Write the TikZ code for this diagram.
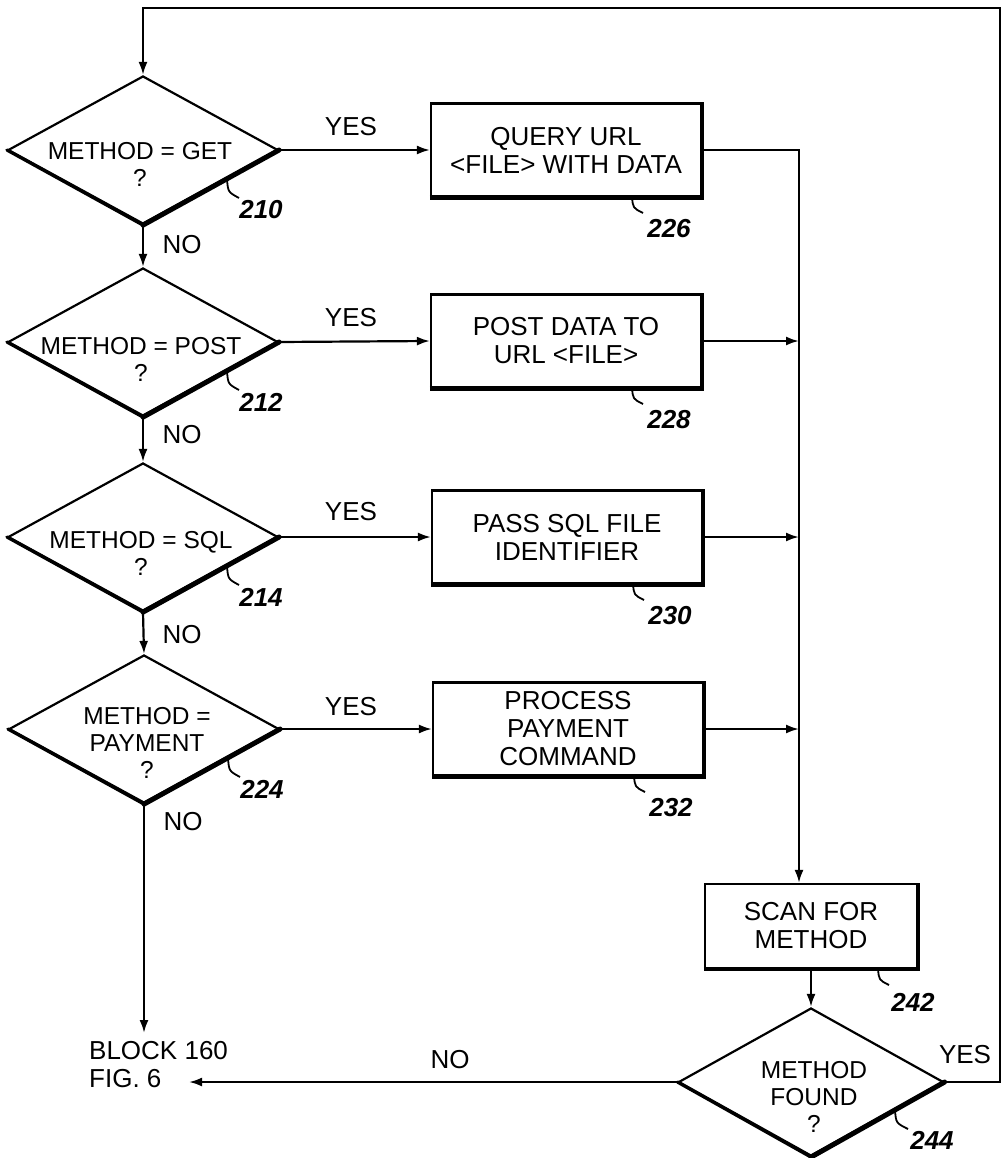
\documentclass[tikz,border=0pt]{standalone}
\usepackage{fontspec}
\setmainfont{Liberation Sans}
\usetikzlibrary{shapes.geometric,arrows.meta,calc}
\begin{document}
\begin{tikzpicture}[x=1pt,y=-1pt,
  arr/.style={line width=2.2pt,-{Latex[length=13pt,width=9pt]}},
  dia/.style={diamond,draw,line width=2.2pt,minimum width=270pt,minimum height=148pt,inner sep=0pt},
  dia2/.style={diamond,draw,line width=2.2pt,minimum width=265pt,minimum height=148pt,inner sep=0pt},
  procbox/.style={rectangle,draw,line width=2.2pt,minimum width=270pt,minimum height=93pt,inner sep=3pt,align=center,font=\fontsize{26}{28}\selectfont},
  dtxt/.style={align=center,font=\fontsize{24.5}{27}\selectfont,inner sep=0pt},
  lbl/.style={font=\fontsize{26}{28}\selectfont,inner sep=1pt},
  reftxt/.style={font=\fontsize{26}{28}\selectfont\bfseries\itshape,inner sep=0pt},
  lead/.style={line width=1.8pt}]
\useasboundingbox[fill=white] (0,0) rectangle (1002,1158);

% decision diamonds
\node[dia] (d210) at (143,150) {};
\node[dia] (d212) at (143,342) {};
\node[dia] (d214) at (143,537) {};
\node[dia] (d224) at (144,729) {};
\node[dia2] (d244) at (811,1082) {};
\foreach \n in {d210,d212,d214,d224,d244}{
  \draw[line width=3.2pt,line cap=round] (\n.west) -- (\n.south);
  \draw[line width=5pt,line cap=round] (\n.south) -- (\n.east);
}
\node[dtxt] (t210) at ($(d210)+(-3,14)$) {METHOD = GET\\?};
\node[dtxt] (t212) at ($(d212)+(-2,17)$) {METHOD = POST\\?};
\node[dtxt] (t214) at ($(d214)+(-2,16)$) {METHOD = SQL\\?};
\node[dtxt] (t224) at ($(d224)+(3,14)$) {METHOD =\\PAYMENT\\?};
\node[dtxt] (t244) at ($(d244)+(3,15)$) {METHOD\\FOUND\\?};

% process boxes
\node[procbox] (b226) at (566,150) {QUERY URL\\<FILE> WITH DATA};
\node[procbox] (b228) at (566,341) {POST DATA TO\\URL <FILE>};
\node[procbox] (b230) at (567,537) {PASS SQL FILE\\IDENTIFIER};
\node[procbox] (b232) at (568,729) {PROCESS\\PAYMENT\\COMMAND};
\node[procbox,minimum width=212pt,minimum height=84pt] (b242) at (811,926) {SCAN FOR\\METHOD};
\foreach \n in {b226,b228,b230,b232,b242}{
  \draw[line width=4.5pt] (\n.south west) -- (\n.south east) -- (\n.north east);
}

% terminal text
\node[lbl,align=left,anchor=west] (blk) at (88,1065) {BLOCK 160\\FIG. 6};
\coordinate (blktop) at (143,1033);
\coordinate (blkin) at (189,1082);

% connectors
\coordinate (tr) at (1000,8);
\coordinate (mtop) at (799,150);
\draw[arr] (d244.east) -| (tr) -| (d210.north);
\draw[arr] (d210.east) -- (b226.west);
\draw[arr] (d212.east) -- (b228.west);
\draw[arr] (d214.east) -- (b230.west);
\draw[arr] (d224.east) -- (b232.west);
\draw[arr] (d210.south) -- (d212.north);
\draw[arr] (d212.south) -- (d214.north);
\draw[arr] (d214.south) -- (d224.north);
\draw[arr] (d224.south) -- (d224.south |- blktop);
\draw[arr] (b226.east) -- (mtop) -- (mtop |- b242.north);
\draw[arr] (b228.east) -- (mtop |- b228.east);
\draw[arr] (b230.east) -- (mtop |- b230.east);
\draw[arr] (b232.east) -- (mtop |- b232.east);
\draw[arr] (b242.south) -- (d244.north);
\draw[arr] (d244.west) -- (blkin);

% YES / NO labels
\node[lbl] (y210) at ($(d210)+(208,-23)$) {YES};
\node[lbl] (y212) at ($(d212)+(208,-24)$) {YES};
\node[lbl] (y214) at ($(d214)+(208,-25)$) {YES};
\node[lbl] (y224) at ($(d224)+(207,-22)$) {YES};
\node[lbl] (y244) at ($(d244)+(154,-27)$) {YES};
\node[lbl] (n210) at ($(d210)+(39,95)$) {NO};
\node[lbl] (n212) at ($(d212)+(39,93)$) {NO};
\node[lbl] (n214) at ($(d214)+(39,98)$) {NO};
\node[lbl] (n224) at ($(d224)+(39,93)$) {NO};
\node[lbl] (n244) at (450,1060) {NO};

% reference numerals with leaders
\foreach \n/\t in {d210/210,d212/212,d214/214,d224/224}{
  \draw[lead] ($(\n)+(84,29)$) .. controls ($(\n)+(85,42)$) .. ($(\n)+(96,48)$);
  \node[reftxt] at ($(\n)+(118,60)$) {\t};
}
\draw[lead] ($(d244)+(84,28)$) .. controls ($(d244)+(85,41)$) .. ($(d244)+(97,47)$);
\node[reftxt] (r244) at ($(d244)+(121,58)$) {244};
\foreach \n/\t in {b226/226,b228/228,b230/230,b232/232}{
  \draw[lead] ($(\n)+(66,47)$) .. controls ($(\n)+(67,58)$) .. ($(\n)+(77,63)$);
  \node[reftxt] at ($(\n)+(103,79)$) {\t};
}
\draw[lead] ($(b242)+(67,43)$) .. controls ($(b242)+(68,54)$) .. ($(b242)+(78,59)$);
\node[reftxt] (r242) at ($(b242)+(102,76)$) {242};
\end{tikzpicture}
\end{document}
